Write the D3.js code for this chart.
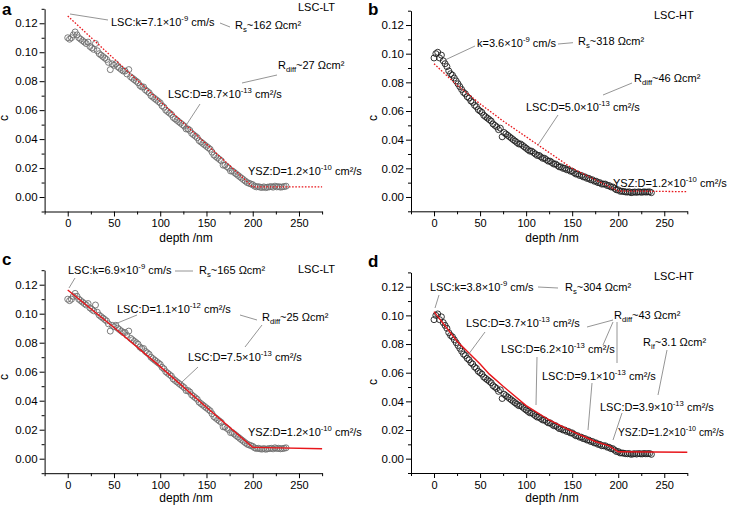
<!DOCTYPE html>
<html><head><meta charset="utf-8">
<script src="https://cdn.jsdelivr.net/npm/d3@7"></script>
<style>body{margin:0;background:#fff} svg{display:block} text{font-family:"Liberation Sans",Arial,sans-serif;fill:#000}</style>
</head><body><svg id="chart" width="730" height="507"></svg>
<script>
// ---------------- data ----------------
const depth = [0,2,4,6,8,10,12,14,16,18,20,22,24,26,28,30,32,34,36,38,40,42,44,46,48,50,52,54,56,58,60,62,64,66,68,70,72,74,76,78,80,82,84,86,88,90,92,94,96,98,100,102,104,106,108,110,112,114,116,118,120,122,124,126,128,130,132,134,136,138,140,142,144,146,148,150,152,154,156,158,160,162,164,166,168,170,172,174,176,178,180,182,184,186,188,190,192,194,196,198,200,202,204,206,208,210,212,214,216,218,220,222,224,226,228,230,232,234,236];

const cLT = [0.110,0.109,0.110,0.112,0.114,0.112,0.110,0.109,0.108,0.107,0.106,0.107,0.104,0.103,0.102,0.106,0.101,0.099,0.098,0.097,0.096,0.095,0.093,0.088,0.092,0.091,0.092,0.090,0.089,0.088,0.087,0.087,0.085,0.088,0.083,0.082,0.081,0.080,0.079,0.077,0.076,0.076,0.074,0.073,0.072,0.070,0.069,0.068,0.067,0.066,0.065,0.063,0.062,0.060,0.059,0.058,0.057,0.055,0.054,0.053,0.052,0.051,0.050,0.049,0.047,0.047,0.046,0.044,0.043,0.042,0.041,0.039,0.038,0.037,0.036,0.035,0.034,0.033,0.031,0.029,0.028,0.027,0.026,0.025,0.022,0.022,0.021,0.020,0.018,0.018,0.017,0.016,0.015,0.014,0.013,0.012,0.011,0.010,0.0095,0.009,0.0085,0.0075,0.007,0.0072,0.0068,0.0066,0.007,0.0065,0.0068,0.007,0.0072,0.0068,0.0075,0.007,0.0072,0.0068,0.007,0.0072,0.0075];

const cHT = [0.097,0.100,0.101,0.097,0.099,0.095,0.093,0.091,0.088,0.086,0.085,0.083,0.081,0.079,0.077,0.075,0.073,0.072,0.070,0.069,0.067,0.066,0.064,0.063,0.061,0.060,0.059,0.057,0.056,0.055,0.054,0.053,0.051,0.050,0.049,0.047,0.048,0.042,0.045,0.044,0.043,0.042,0.041,0.040,0.039,0.038,0.037,0.037,0.036,0.035,0.034,0.033,0.032,0.032,0.031,0.030,0.029,0.029,0.028,0.027,0.027,0.026,0.025,0.025,0.024,0.023,0.023,0.022,0.021,0.021,0.020,0.020,0.019,0.019,0.018,0.018,0.017,0.016,0.016,0.015,0.015,0.014,0.014,0.013,0.013,0.012,0.012,0.011,0.011,0.010,0.010,0.009,0.009,0.009,0.008,0.008,0.007,0.007,0.006,0.005,0.005,0.004,0.004,0.0038,0.0035,0.0034,0.0036,0.003,0.0033,0.0035,0.0032,0.0036,0.0034,0.0033,0.0036,0.0034,0.0035,0.0036,0.003];

const fitAx = [0,200,275];
const fitAy = [0.125,0.007,0.007];
const fitBx = [0,25,50,75,100,125,150,175,200,275];
const fitBy = [0.093,0.078,0.065,0.053,0.042,0.031,0.020,0.012,0.0042,0.0037];
const fitCx = [0,50,100,150,200,275];
const fitCy = [0.1163,0.0905,0.0635,0.0355,0.0078,0.0069];
const fitDx = [0,25,50,60,75,100,125,150,175,190,200,275];
const fitDy = [0.1026,0.082,0.066,0.059,0.0505,0.037,0.027,0.019,0.012,0.009,0.0048,0.0045];

const xMajor = [0,50,100,150,200,250];
const xMinor = [-25,25,75,125,175,225,275];
const yMajor = [0,0.02,0.04,0.06,0.08,0.10,0.12];
const yMinor = [-0.01,0.01,0.03,0.05,0.07,0.09,0.11,0.13];

// ---------------- layout ----------------
const svg = d3.select("#chart");
const panels = [
  {id:"a", l:44.6, r:322.1, t:8.8, b:211.5, data:cLT, fx:fitAx, fy:fitAy, dotted:true, pc:"#6e6e6e",
   lx:2, ly:15, title:"LSC-LT", tx:298, ty:11, cx:8, cy:118, dx:186, dy:242,
   notes:[
     {x:111,y:26,s:"LSC:k=7.1×10^{-9} cm/s"},
     {x:235,y:29,s:"R_{s}~162 Ωcm²"},
     {x:278,y:69,s:"R_{diff}~27 Ωcm²"},
     {x:168,y:98,s:"LSC:D=8.7×10^{-13} cm²/s"},
     {x:248,y:175,s:"YSZ:D=1.2×10^{-10} cm²/s"}],
   lines:[[70,14,108,20],[220,23,230,27],[277,75,242,83],[200,104,183,130]]},
  {id:"b", l:411, r:687.3, t:10.7, b:211.3, data:cHT, fx:fitBx, fy:fitBy, dotted:true, pc:"#1e1e1e",
   lx:368, ly:15, title:"LSC-HT", tx:654, ty:19, cx:377, cy:118, dx:552, dy:242,
   notes:[
     {x:477,y:47,s:"k=3.6×10^{-9} cm/s"},
     {x:578,y:45,s:"R_{s}~318 Ωcm²"},
     {x:634,y:82,s:"R_{diff}~46 Ωcm²"},
     {x:526,y:111,s:"LSC:D=5.0×10^{-13} cm²/s"},
     {x:613,y:187,s:"YSZ:D=1.2×10^{-10} cm²/s"}],
   lines:[[475,46,445,60],[558,44,573,42.7],[632,83,603,95],[558,115,538,145]]},
  {id:"c", l:44.6, r:322.1, t:270.2, b:473.2, data:cLT, fx:fitCx, fy:fitCy, dotted:false, pc:"#6e6e6e",
   lx:2, ly:265, title:"LSC-LT", tx:298, ty:273, cx:8, cy:377, dx:186, dy:502,
   notes:[
     {x:68,y:274,s:"LSC:k=6.9×10^{-9} cm/s"},
     {x:199,y:274,s:"R_{s}~165 Ωcm²"},
     {x:117,y:313,s:"LSC:D=1.1×10^{-12} cm²/s"},
     {x:262,y:321,s:"R_{diff}~25 Ωcm²"},
     {x:188,y:361,s:"LSC:D=7.5×10^{-13} cm²/s"},
     {x:248,y:436,s:"YSZ:D=1.2×10^{-10} cm²/s"}],
   lines:[[75,278,69,288],[175,271,193,271],[137,315,115,324],[240,315,257,320],[262,325,245,347],[198,367,182,382]]},
  {id:"d", l:411, r:687.3, t:272.4, b:473.0, data:cHT, fx:fitDx, fy:fitDy, dotted:false, pc:"#1e1e1e",
   lx:368, ly:267, title:"LSC-HT", tx:654, ty:280, cx:377, cy:382, dx:552, dy:502,
   notes:[
     {x:430,y:291,s:"LSC:k=3.8×10^{-9} cm/s"},
     {x:565,y:291,s:"R_{s}~304 Ωcm²"},
     {x:466,y:327,s:"LSC:D=3.7×10^{-13} cm²/s"},
     {x:614,y:319,s:"R_{diff}~43 Ωcm²"},
     {x:501,y:353,s:"LSC:D=6.2×10^{-13} cm²/s"},
     {x:542,y:380,s:"LSC:D=9.1×10^{-13} cm²/s"},
     {x:643,y:346,s:"R_{if}~3.1 Ωcm²"},
     {x:600,y:411,s:"LSC:D=3.9×10^{-13} cm²/s"},
     {x:618,y:436,s:"YSZ:D=1.2×10^{-10} cm²/s", fit:106}],
   lines:[[439,295,435,308],[538,287,558,288],[485,332,468,355],[613,320,587,327],[613,322,603,345],[617,322,617,363],
          [537,357,536,405],[592,383,588,430],[667,350,658,395],[622,413,613,440]]}
];

function rich(g, x, y, str, size) {
  const t = g.append("text").attr("x", x).attr("y", y).attr("font-size", size);
  const re = /(\^\{[^}]*\}|_\{[^}]*\})/g;
  const parts = str.split(re).filter(s => s.length);
  let shift = 0;
  parts.forEach(p => {
    if (p.startsWith("^{")) {
      t.append("tspan").attr("font-size", size*0.7).attr("dy", -5 - shift).text(p.slice(2,-1));
      shift = -5;
    } else if (p.startsWith("_{")) {
      t.append("tspan").attr("font-size", size*0.7).attr("dy", 3 - shift).text(p.slice(2,-1));
      shift = 3;
    } else {
      t.append("tspan").attr("dy", -shift).text(p);
      shift = 0;
    }
  });
  return t;
}

panels.forEach(p => {
  const x = d3.scaleLinear().domain([-25,275]).range([p.l, p.r]);
  const y = d3.scaleLinear().domain([-0.01,0.13]).range([p.b, p.t]);
  const g = svg.append("g");

  // axes
  g.append("g").attr("class","xa").attr("transform", `translate(0,${p.b})`)
    .call(d3.axisBottom(x).tickValues(xMajor).tickSize(5).tickSizeOuter(0).tickPadding(3).tickFormat(d3.format("d")));
  g.append("g").attr("transform", `translate(0,${p.b})`)
    .call(d3.axisBottom(x).tickValues(xMinor).tickSize(3).tickSizeOuter(0).tickFormat(""))
    .select(".domain").remove();
  g.append("g").attr("class","ya").attr("transform", `translate(${p.l},0)`)
    .call(d3.axisLeft(y).tickValues(yMajor).tickSize(5).tickSizeOuter(0).tickPadding(2).tickFormat(d3.format(".2f")));
  g.append("g").attr("transform", `translate(${p.l},0)`)
    .call(d3.axisLeft(y).tickValues(yMinor).tickSize(3).tickSizeOuter(0).tickFormat(""))
    .select(".domain").remove();
  g.selectAll(".tick text").attr("font-family", '"Liberation Sans",Arial,sans-serif').attr("fill","#000");
  g.selectAll(".xa .tick text").attr("font-size", 11);
  g.selectAll(".ya .tick text").attr("font-size", 11.5);
  g.selectAll(".domain, .tick line").attr("stroke", "#000").attr("stroke-width", 1);

  // points
  g.append("g").selectAll("circle").data(depth.map((d,i) => [d, p.data[i]])).join("circle")
    .attr("cx", d => x(d[0])).attr("cy", d => y(d[1])).attr("r", 3)
    .attr("fill", "none").attr("stroke", p.pc).attr("stroke-width", 0.9);

  // fit
  const line = d3.line().x(d => x(d[0])).y(d => y(d[1]));
  g.append("path").datum(p.fx.map((d,i) => [d, p.fy[i]])).attr("d", line)
    .attr("fill", "none").attr("stroke", "#e8161b").attr("stroke-width", p.dotted ? 1.3 : 1.4)
    .attr("stroke-dasharray", p.dotted ? "1.6,1.6" : null);

  // leader lines
  g.append("g").selectAll("line").data(p.lines).join("line")
    .attr("x1", d => d[0]).attr("y1", d => d[1]).attr("x2", d => d[2]).attr("y2", d => d[3])
    .attr("stroke", "#7a7a7a").attr("stroke-width", 0.8);

  // annotations
  p.notes.forEach(n => {
    const t = rich(g, n.x, n.y, n.s, 11);
    if (n.fit) t.attr("textLength", n.fit).attr("lengthAdjust", "spacingAndGlyphs");
  });

  // titles
  g.append("text").attr("x", p.tx).attr("y", p.ty).attr("font-size", 11).text(p.title);
  g.append("text").attr("x", p.lx).attr("y", p.ly).attr("font-size", 17).attr("font-weight", "bold").text(p.id);
  g.append("text").attr("transform", `translate(${p.cx},${p.cy}) rotate(-90)`).attr("text-anchor", "middle")
    .attr("font-size", 12).text("c");
  g.append("text").attr("x", p.dx).attr("y", p.dy).attr("text-anchor", "middle").attr("font-size", 12).text("depth /nm");
});
</script>
</body></html>
